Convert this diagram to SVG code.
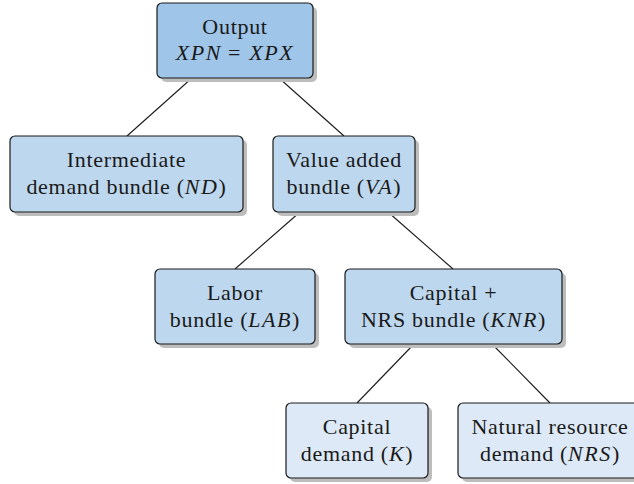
<svg xmlns="http://www.w3.org/2000/svg" width="634" height="484" viewBox="0 0 634 484">
<style>
.sh{fill:#bdbdbd}
.box{stroke:#1a1a1a;stroke-width:1.2}
.l1{fill:#9fc5e8}
.l2{fill:#bdd7ee}
.l3{fill:#dde9f6}
text{font-family:"Liberation Serif","Times New Roman",serif;font-size:22px;fill:#1a1a1a;text-anchor:middle;letter-spacing:0.7px}
.i{font-style:italic;letter-spacing:1.6px}
.edge{stroke:#1a1a1a;stroke-width:1.1;fill:none}
</style>
<rect width="634" height="484" fill="#ffffff"/>
<g id="connectors">
<line class="edge" x1="192" y1="78" x2="127" y2="136"/>
<line class="edge" x1="279" y1="78" x2="344" y2="136"/>
<line class="edge" x1="300" y1="212" x2="235" y2="269"/>
<line class="edge" x1="388" y1="212" x2="453" y2="269"/>
<line class="edge" x1="414" y1="344" x2="357" y2="403"/>
<line class="edge" x1="492" y1="344" x2="550" y2="403"/>
</g>
<g id="output">
<rect class="sh" x="161" y="7" width="156" height="75" rx="5"/>
<rect class="box l1" x="157" y="3" width="156" height="75" rx="5"/>
<text x="235" y="33.5">Output</text>
<text x="235" y="59.5"><tspan class="i">XPN</tspan><tspan dx="6">=</tspan><tspan dx="8" class="i">XPX</tspan></text>
</g>
<g id="intermediate">
<rect class="sh" x="14" y="140" width="233" height="76" rx="5"/>
<rect class="box l2" x="10" y="136" width="233" height="76" rx="5"/>
<text x="126.5" y="167">Intermediate</text>
<text x="126.5" y="194">demand bundle (<tspan class="i">ND</tspan>)</text>
</g>
<g id="valueadded">
<rect class="sh" x="277" y="140" width="142" height="76" rx="5"/>
<rect class="box l2" x="273" y="136" width="142" height="76" rx="5"/>
<text x="344" y="167">Value added</text>
<text x="344" y="194">bundle (<tspan class="i">VA</tspan>)</text>
</g>
<g id="labor">
<rect class="sh" x="159" y="273" width="160" height="75" rx="5"/>
<rect class="box l2" x="155" y="269" width="160" height="75" rx="5"/>
<text x="235" y="300">Labor</text>
<text x="235" y="327">bundle (<tspan class="i">LAB</tspan>)</text>
</g>
<g id="capnrs">
<rect class="sh" x="349" y="273" width="217" height="75" rx="5"/>
<rect class="box l2" x="345" y="269" width="217" height="75" rx="5"/>
<text x="453.5" y="300">Capital +</text>
<text x="453.5" y="327">NRS bundle (<tspan class="i">KNR</tspan>)</text>
</g>
<g id="capital">
<rect class="sh" x="290" y="407" width="142" height="75" rx="5"/>
<rect class="box l3" x="286" y="403" width="142" height="75" rx="5"/>
<text x="357" y="434">Capital</text>
<text x="357" y="461">demand (<tspan class="i">K</tspan>)</text>
</g>
<g id="natres">
<rect class="sh" x="462" y="407" width="184" height="75" rx="5"/>
<rect class="box l3" x="458" y="403" width="184" height="75" rx="5"/>
<text x="550" y="434">Natural resource</text>
<text x="550" y="461">demand (<tspan class="i">NRS</tspan>)</text>
</g>
</svg>
